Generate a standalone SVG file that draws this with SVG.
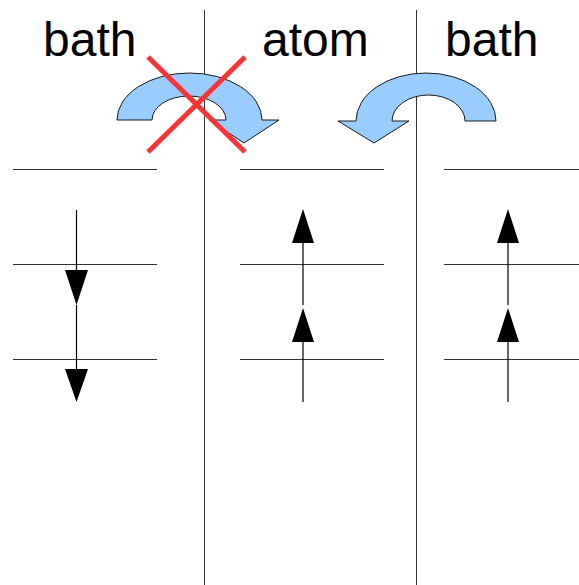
<svg xmlns="http://www.w3.org/2000/svg" width="579" height="585" viewBox="0 0 579 585">
  <style>
    .lbl { font-family: "Liberation Sans", Arial, sans-serif; font-size: 48px; fill: #000; }
    .rule { stroke: #333; stroke-width: 1; fill: none; }
    .spin { stroke: #000; stroke-width: 1.2; fill: none; }
    .head { fill: #000; }
    .hop { fill: #99ccff; stroke: #1a1a1a; stroke-width: 1; stroke-linejoin: miter; }
    .cross { stroke: #ff3333; stroke-width: 5; stroke-linecap: butt; }
  </style>
  <rect width="579" height="585" fill="#fff"/>

  <!-- column dividers -->
  <g id="dividers">
    <line class="rule" x1="204.5" y1="10" x2="204.5" y2="585"/>
    <line class="rule" x1="416.5" y1="10" x2="416.5" y2="585"/>
  </g>

  <!-- headings -->
  <g id="label-bath-left"><text class="lbl" x="43" y="56">bath</text></g>
  <g id="label-atom"><text class="lbl" x="262" y="56">atom</text></g>
  <g id="label-bath-right"><text class="lbl" x="445" y="56">bath</text></g>

  <!-- energy levels -->
  <g id="levels-left">
    <line class="rule" x1="13" y1="169.5" x2="157" y2="169.5"/>
    <line class="rule" x1="13" y1="264.5" x2="157" y2="264.5"/>
    <line class="rule" x1="13" y1="359.5" x2="157" y2="359.5"/>
  </g>
  <g id="levels-atom">
    <line class="rule" x1="240" y1="169.5" x2="384" y2="169.5"/>
    <line class="rule" x1="240" y1="264.5" x2="384" y2="264.5"/>
    <line class="rule" x1="240" y1="359.5" x2="384" y2="359.5"/>
  </g>
  <g id="levels-right">
    <line class="rule" x1="444" y1="169.5" x2="579" y2="169.5"/>
    <line class="rule" x1="444" y1="264.5" x2="579" y2="264.5"/>
    <line class="rule" x1="444" y1="359.5" x2="579" y2="359.5"/>
  </g>

  <!-- spin arrows -->
  <g id="spins-left">
    <line class="spin" x1="76.5" y1="210" x2="76.5" y2="272"/>
    <polygon class="head" points="65,270 88,270 76.5,305"/>
    <line class="spin" x1="76.5" y1="305" x2="76.5" y2="372"/>
    <polygon class="head" points="65,369 88,369 76.5,402"/>
  </g>
  <g id="spins-atom">
    <polygon class="head" points="303,209 292,243 314,243"/>
    <line class="spin" x1="303" y1="241" x2="303" y2="305"/>
    <polygon class="head" points="303,308 292,342 314,342"/>
    <line class="spin" x1="303" y1="340" x2="303" y2="402"/>
  </g>
  <g id="spins-right">
    <polygon class="head" points="508,209 497,243 519,243"/>
    <line class="spin" x1="508" y1="241" x2="508" y2="305"/>
    <polygon class="head" points="508,308 497,342 519,342"/>
    <line class="spin" x1="508" y1="340" x2="508" y2="402"/>
  </g>

  <!-- exchange arrows -->
  <g id="hop-blocked">
    <path class="hop" d="M117,120 A72.5,47 0 0 1 262,120 L279,120 L244,143 L209,120 L226,120 A37,24 0 0 0 152,120 Z"/>
    <line class="cross" x1="148" y1="57" x2="245" y2="152"/>
    <line class="cross" x1="245" y1="57" x2="148" y2="152"/>
  </g>
  <g id="hop-allowed">
    <path class="hop" d="M496,121 A70,48 0 0 0 356,121 L338,121 L374,143 L409,121 L392,121 A36.5,26 0 0 1 465,121 Z"/>
  </g>
</svg>
